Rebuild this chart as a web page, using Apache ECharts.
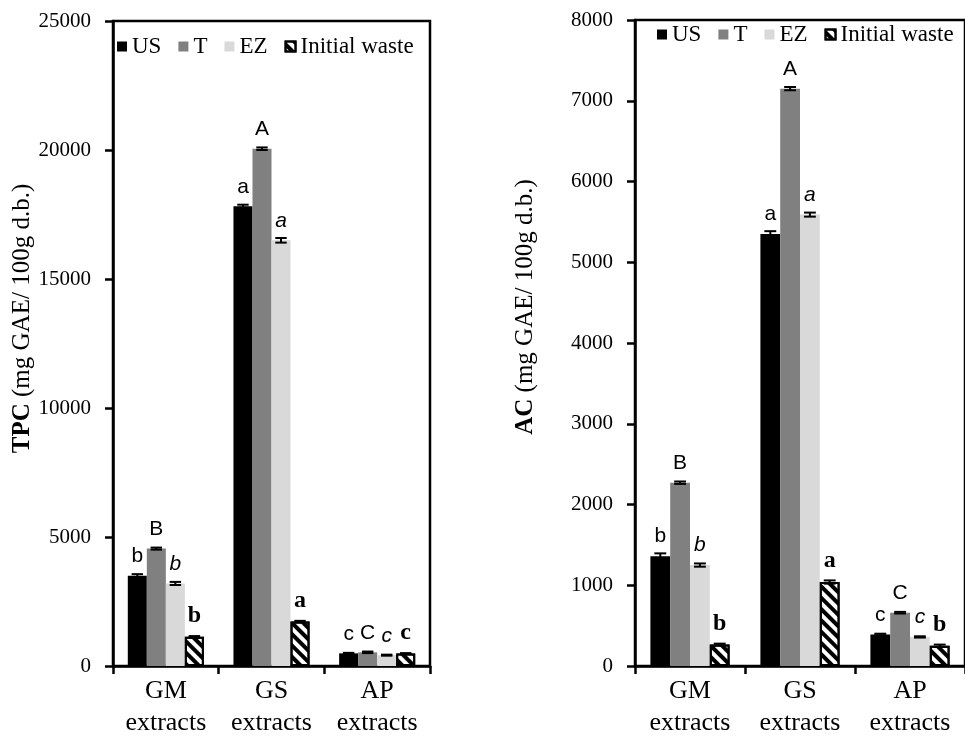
<!DOCTYPE html>
<html>
<head>
<meta charset="utf-8">
<script src="https://cdn.jsdelivr.net/npm/echarts@6/dist/echarts.min.js"></script>
<style>
html,body{margin:0;padding:0;background:#fff;}
#chart{width:965px;height:739px;}
</style>
</head>
<body>
<div id="chart"></div>
<script>
var categories = ['GM\nextracts', 'GS\nextracts', 'AP\nextracts'];
var seriesNames = ['US', 'T', 'EZ', 'Initial waste'];

// Left panel: TPC (mg GAE/100g d.b.)
var tpcUS = [3500, 17820, 490];
var tpcT = [4550, 20050, 530];
var tpcEZ = [3200, 16500, 420];
var tpcInit = [1130, 1720, 480];
var tpcErrUS = [60, 60, 20];
var tpcErrT = [40, 50, 30];
var tpcErrEZ = [60, 90, 20];
var tpcErrInit = [30, 30, 20];
var tpcLetUS = ['b', 'a', 'c'];
var tpcLetT = ['B', 'A', 'C'];
var tpcLetEZ = ['b', 'a', 'c'];
var tpcLetInit = ['b', 'a', 'c'];
var tpcTicks = [0, 5000, 10000, 15000, 20000, 25000];

// Right panel: AC (mg GAE/100g d.b.)
var acUS = [1360, 5350, 390];
var acT = [2270, 7150, 660];
var acEZ = [1250, 5590, 360];
var acInit = [265, 1040, 250];
var acErrUS = [35, 35, 10];
var acErrT = [15, 20, 10];
var acErrEZ = [20, 25, 8];
var acErrInit = [12, 20, 15];
var acLetUS = ['b', 'a', 'c'];
var acLetT = ['B', 'A', 'C'];
var acLetEZ = ['b', 'a', 'c'];
var acLetInit = ['b', 'a', 'b'];
var acTicks = [0, 1000, 2000, 3000, 4000, 5000, 6000, 7000, 8000];

var SERIF = 'Liberation Serif';
var SANS = 'Liberation Sans';
var colors = ['#000000', '#808080', '#d9d9d9', '#ffffff'];
var GAP = 0.28;

var stripe = {
  symbol: 'rect', symbolSize: 1,
  dashArrayX: [1, 0], dashArrayY: [4, 4],
  rotation: Math.PI / 4,
  color: '#000000'
};

var letterStyles = [
  { fontFamily: SANS, fontSize: 21, fontStyle: 'normal', fontWeight: 'normal' },
  { fontFamily: SANS, fontSize: 21, fontStyle: 'normal', fontWeight: 'normal' },
  { fontFamily: SANS, fontSize: 21, fontStyle: 'italic', fontWeight: 'normal' },
  { fontFamily: SERIF, fontSize: 24, fontStyle: 'normal', fontWeight: 'bold' }
];

function errRender(params, api) {
  var ci = api.value(0), v = api.value(1), e = api.value(2), si = api.value(3);
  var catW = api.size([1, 0])[0];
  var barW = catW * (1 - GAP) / 4;
  var cx = api.coord([ci, v])[0] + (si - 1.5) * barW;
  var yT = api.coord([ci, v + e])[1];
  var yB = api.coord([ci, v - e])[1];
  var hw = barW * 0.3;
  var st = { stroke: '#000', lineWidth: 2 };
  return {
    type: 'group',
    children: [
      { type: 'line', shape: { x1: cx, y1: yT, x2: cx, y2: yB }, style: st },
      { type: 'line', shape: { x1: cx - hw, y1: yT, x2: cx + hw, y2: yT }, style: st },
      { type: 'line', shape: { x1: cx - hw, y1: yB, x2: cx + hw, y2: yB }, style: st }
    ]
  };
}

function buildPanel(idx, vals, errs, lets) {
  var out = [];
  for (var s = 0; s < 4; s++) {
    (function (s) {
      var isInit = s === 3;
      out.push({
        name: seriesNames[s],
        type: 'bar',
        xAxisIndex: idx, yAxisIndex: idx,
        barGap: '0%',
        barCategoryGap: (GAP * 100) + '%',
        data: vals[s],
        itemStyle: isInit ? {
          color: '#ffffff', borderColor: '#000', borderWidth: 2, decal: stripe
        } : { color: colors[s] },
        label: {
          show: true, position: 'top', distance: 9, color: '#000',
          fontFamily: letterStyles[s].fontFamily,
          fontSize: letterStyles[s].fontSize,
          fontStyle: letterStyles[s].fontStyle,
          fontWeight: letterStyles[s].fontWeight,
          formatter: function (p) { return lets[s][p.dataIndex]; }
        },
        emphasis: { disabled: true },
        animation: false
      });
    })(s);
  }
  var errData = [];
  for (var s2 = 0; s2 < 4; s2++) {
    for (var c = 0; c < categories.length; c++) {
      errData.push([c, vals[s2][c], errs[s2][c], s2]);
    }
  }
  out.push({
    type: 'custom',
    xAxisIndex: idx, yAxisIndex: idx,
    renderItem: errRender,
    encode: { x: 0, y: 1 },
    data: errData,
    z: 10,
    silent: true,
    animation: false
  });
  return out;
}

var axisLineStyle = { color: '#000', width: 2.5 };

function xAx(idx) {
  return {
    type: 'category', gridIndex: idx, data: categories,
    axisLine: { lineStyle: axisLineStyle },
    axisTick: { show: true, inside: false, length: 8, lineStyle: axisLineStyle },
    axisLabel: { fontFamily: SERIF, fontSize: 26, color: '#000', margin: 9, lineHeight: 32 },
    splitLine: { show: false }
  };
}
function yAx(idx, max, interval, boldName, restName, gap, shift) {
  return {
    type: 'value', gridIndex: idx, min: 0, max: max, interval: interval,
    name: '{b|' + boldName + '} ' + restName,
    nameLocation: 'middle', nameGap: gap,
    nameTextStyle: {
      fontFamily: SERIF, fontSize: 25, color: '#000',
      padding: [0, 0, 0, shift],
      rich: { b: { fontFamily: SERIF, fontSize: 25, fontWeight: 'bold', color: '#000' } }
    },
    axisLine: { show: true, lineStyle: axisLineStyle },
    axisTick: { show: true, inside: false, length: 8, lineStyle: axisLineStyle },
    axisLabel: {
      fontFamily: SERIF, fontSize: 21, color: '#000', margin: 22,
      formatter: function (v) { return String(v); }
    },
    splitLine: { show: false }
  };
}

var chart = echarts.init(document.getElementById('chart'), null, { renderer: 'canvas' });
var series = [].concat(
  buildPanel(0, [tpcUS, tpcT, tpcEZ, tpcInit], [tpcErrUS, tpcErrT, tpcErrEZ, tpcErrInit], [tpcLetUS, tpcLetT, tpcLetEZ, tpcLetInit]),
  buildPanel(1, [acUS, acT, acEZ, acInit], [acErrUS, acErrT, acErrEZ, acErrInit], [acLetUS, acLetT, acLetEZ, acLetInit])
);

var legendBase = {
  data: seriesNames, icon: 'rect', itemWidth: 10, itemHeight: 10, itemGap: 17,
  textStyle: { fontFamily: SERIF, fontSize: 23, color: '#000' },
  selectedMode: false
};

chart.setOption({
  backgroundColor: '#ffffff',
  animation: false,
  grid: [
    { left: 113, top: 21, width: 317, height: 650, show: true, borderColor: '#000', borderWidth: 2.5, backgroundColor: 'transparent' },
    { left: 635, top: 20, width: 336, height: 648, show: true, borderColor: '#000', borderWidth: 2.5, backgroundColor: 'transparent' }
  ],
  legend: [
    Object.assign({}, legendBase, { left: 112, top: 30 }),
    Object.assign({}, legendBase, { left: 652, top: 18 })
  ],
  xAxis: [xAx(0), xAx(1)],
  yAxis: [
    yAx(0, tpcTicks[tpcTicks.length - 1], tpcTicks[1] - tpcTicks[0], 'TPC', '(mg GAE/ 100g d.b.)', 74, 50),
    yAx(1, acTicks[acTicks.length - 1], acTicks[1] - acTicks[0], 'AC', '(mg GAE/ 100g d.b.)', 97, 72)
  ],
  series: series
});
</script>
</body>
</html>
